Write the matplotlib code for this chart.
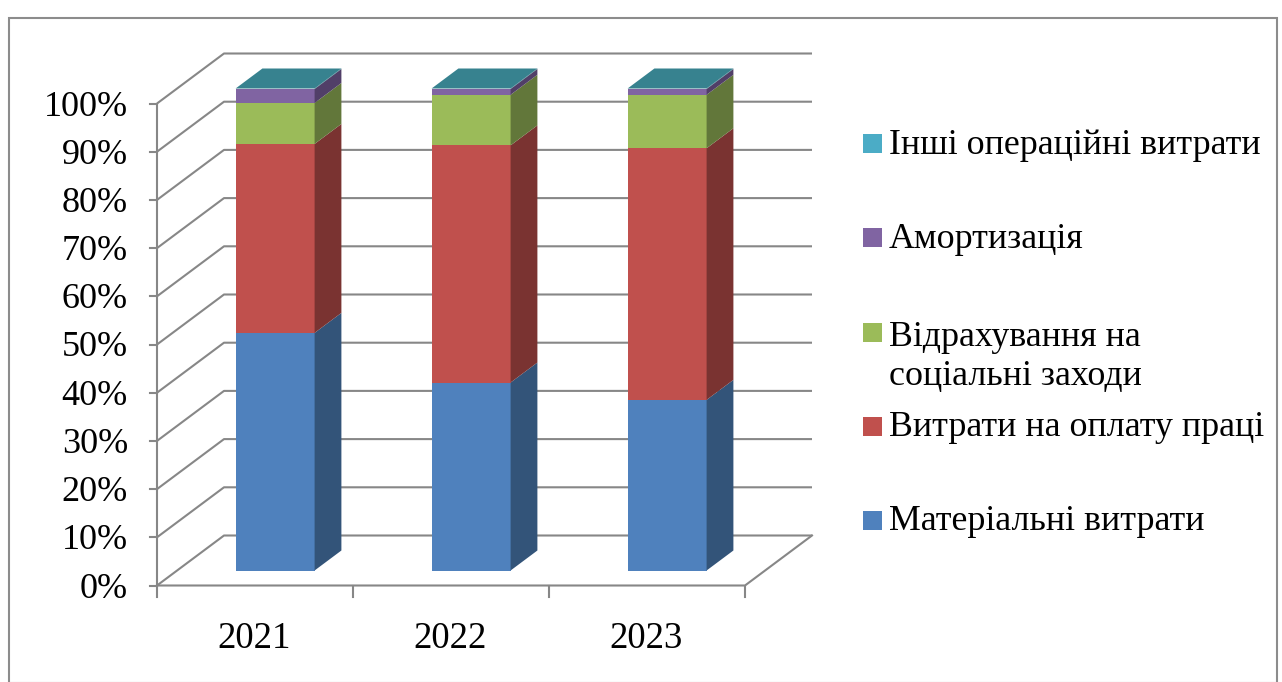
import matplotlib
matplotlib.use('Agg')
import matplotlib.pyplot as plt
from matplotlib.patches import Polygon, Rectangle

# ---------------- data ----------------
categories = ['2021', '2022', '2023']
series_names = ['Матеріальні витрати',
                'Витрати на оплату праці',
                'Відрахування на\nсоціальні заходи',
                'Амортизація',
                'Інші операційні витрати']
material = [49.3, 39.0, 35.4]
labor = [39.2, 49.2, 52.2]
social = [8.5, 10.5, 11.1]
amort = [2.9, 1.2, 1.2]
other = [0.1, 0.1, 0.1]
y_ticks = [0, 10, 20, 30, 40, 50, 60, 70, 80, 90, 100]
y_tick_labels = [f'{v}%' for v in y_ticks]

# ---------------- styles ----------------
front_colors = ['#4F81BD', '#C0504D', '#9BBB59', '#8064A2', '#4BACC6']
side_colors = ['#335479', '#7A3331', '#62773A', '#513F68', '#31717F']
top_colors = ['#4A77AD', '#A84644', '#8AA850', '#6F5890', '#37828F']
grid_color = '#878787'
FONT = ['Liberation Serif', 'DejaVu Serif']
plt.rcParams['font.family'] = FONT

W, H = 1282, 682
fig = plt.figure(figsize=(W / 100, H / 100), dpi=100)
fig.patch.set_facecolor('white')

# axes mapped so that the front floor runs 157..745 px and back wall top reaches 53 px
x0p, x1p = 157, 812
y0p, y1p = 585.5, 53.5
ax = fig.add_axes([x0p / W, 1 - y0p / H, (x1p - x0p) / W, (y0p - y1p) / H])
PXX = 196.0            # px per category unit
PXY = 4.82             # px per percent
DX = 67 / PXX          # wall depth in x units
DY = 50 / PXY          # wall depth in y units
ax.set_xlim(-0.5, 2.5 + DX)
ax.set_ylim(0, 100 + DY)
ax.axis('off')

lw = 1.5
# walls / gridlines
for v, lab in zip(y_ticks, y_tick_labels):
    ax.plot([-0.5, -0.5 + DX, 2.5 + DX], [v, v + DY, v + DY], color=grid_color,
            lw=lw, zorder=1, solid_capstyle='butt', clip_on=False)
    ax.plot([-0.5 - 7 / PXX, -0.5], [v, v], color=grid_color, lw=lw, zorder=1, clip_on=False)
    ax.text(-0.5 - 29 / PXX, v - 3.5 / PXY, lab, ha='right', va='center', fontsize=26,
            color='black', clip_on=False)
# floor front edge and right edge
ax.plot([-0.5, 2.5, 2.5 + DX], [0, 0, DY], color=grid_color, lw=lw, zorder=1, clip_on=False)
# vertical axis
ax.plot([-0.5, -0.5], [0, 100], color=grid_color, lw=lw, zorder=1, clip_on=False)
# category ticks
for xt in [-0.5, 0.5, 1.5, 2.5]:
    ax.plot([xt, xt], [0, -11 / PXY], color=grid_color, lw=lw, zorder=1, clip_on=False)
for i, c in enumerate(categories):
    ax.text(i - 1 / PXX, -53 / PXY, c, ha='center', va='center', fontsize=26.5, color='black',
            clip_on=False)

# 3D stacked bars
series = [material, labor, social, amort, other]
w = 79 / PXX
z0, z1 = 0.3, 0.7
for i in range(len(categories)):
    total = sum(s[i] for s in series)
    bottom = 0.0
    xl = i - w / 2 + z0 * DX
    xr = i + w / 2 + z0 * DX
    ddx = (z1 - z0) * DX
    ddy = (z1 - z0) * DY
    for k, s in enumerate(series):
        val = s[i] / total * 100
        top = bottom + val
        yb = bottom + z0 * DY
        yt = top + z0 * DY
        ax.add_patch(Rectangle((xl, yb), xr - xl, yt - yb, facecolor=front_colors[k],
                               edgecolor='none', zorder=3, clip_on=False))
        ax.add_patch(Polygon([(xr, yb), (xr + ddx, yb + ddy), (xr + ddx, yt + ddy), (xr, yt)],
                             closed=True, facecolor=side_colors[k], edgecolor='none',
                             zorder=3, clip_on=False))
        if k == len(series) - 1:
            ax.add_patch(Polygon([(xl, yt), (xr, yt), (xr + ddx, yt + ddy), (xl + ddx, yt + ddy)],
                                 closed=True, facecolor=top_colors[k], edgecolor='none',
                                 zorder=3, clip_on=False))
        bottom = top

# legend (manual, top series first)
legend_y = [145, 239, 357, 428, 522]
square_y = [143, 237, 332, 426, 520]
sq = 19
for k in range(len(series)):
    idx = len(series) - 1 - k
    sy = square_y[k]
    fig.add_artist(Rectangle((863 / W, 1 - (sy + sq / 2) / H), sq / W, sq / H,
                             transform=fig.transFigure, facecolor=front_colors[idx],
                             edgecolor='none'))
    fig.text(889 / W, 1 - legend_y[k] / H, series_names[idx], ha='left', va='center',
             fontsize=25.8, color='black', linespacing=1.22)

# chart border
fig.add_artist(Rectangle((9 / W, 1 - 683 / H), (1277 - 9) / W, (683 - 18) / H,
                         transform=fig.transFigure, facecolor='none',
                         edgecolor='#8C8C8C', lw=1.5))

fig.savefig('out.png', dpi=100, facecolor='white')
